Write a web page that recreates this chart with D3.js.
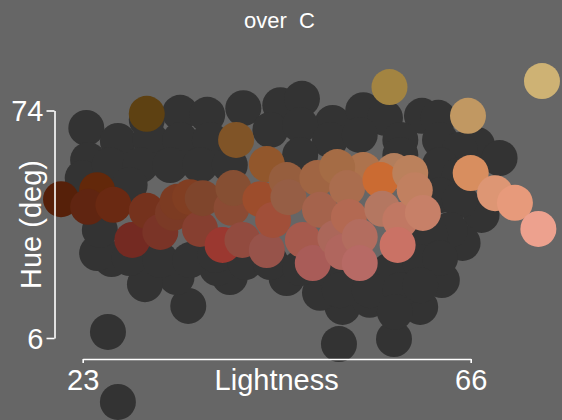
<!DOCTYPE html>
<html><head><meta charset="utf-8"><script src="https://cdn.jsdelivr.net/npm/d3@7"></script>
<style>body{margin:0;background:#666666;overflow:hidden}svg{display:block}text{font-family:"Liberation Sans",Arial,sans-serif;fill:#ffffff}</style></head>
<body><svg id="chart" width="562" height="420"></svg>
<script>
// Background points (chroma below threshold): lightness / hue
const grayLightness = [23.4,26.9,30.1,33.8,36.8,40.8,44.9,47.3,50.7,54.1,56.5,60.6,62.4,66.7,69.2,67.2,65.1,62.8,60.4,57.5,51.4,51.8,54.8,49.3,45.6,39.3,37.9,34.7,33.4,29.9,26.2,24.6,25.8,26.9,23.6,23.0,
  30.5,33.8,37.1,43.8,47.1,50.4,53.7,58.2,62.6,64.8,26.0,29.4,32.7,36.0,39.3,47.1,58.2,62.6,64.8,28.2,62.6,64.8,24.9,63.7,61.5,
  28.2,31.6,34.9,37.7,41.0,43.8,47.1,50.4,53.7,57.1,60.4,62.6,51.5,54.8,58.2,60.4,57.6];
const grayHue = [68.8,64.9,71.2,73.3,72.7,74.7,75.6,77.5,70.3,74.1,71.8,72.4,71.8,63.7,59.8,42.8,34.4,23.3,15.3,5.7,4.2,15.3,17.4,19.5,23.9,24.2,26.9,15.6,24.2,22.1,29.6,31.4,7.8,-13.1,59.2,53.8,
  65.2,65.2,65.2,68.2,69.7,65.2,66.7,65.2,65.2,62.2,57.7,57.7,57.7,57.7,57.7,60.7,60.7,57.7,54.7,51.7,48.7,47.2,38.3,38.3,36.8,
  29.9,29.3,29.3,30.8,28.7,28.7,26.9,26.3,24.8,26.3,28.7,29.9,20.3,20.3,20.3,21.8,13.8];

// Points over the chroma threshold: lightness / hue / chroma
const colLightness = [20.6,24.6,23.6,26.4,28.5,30.1,30.1,31.6,33.0,33.5,34.9,36.0,36.3,38.5,39.5,39.7,40.0,40.7,42.7,43.4,43.4,44.1,45.6,45.8,47.4,48.5,49.0,49.3,51.0,54.1,51.2,51.8,52.3,52.5,53.7,53.7,57.5,56.0,56.2,57.0,58.2,57.9,59.3,59.8,60.7,65.7,66.0,68.7,70.9,73.5,73.9];
const colHue = [47.5,50.2,45.2,45.8,35.3,44.0,73.0,37.7,43.4,46.7,48.1,38.6,47.8,33.8,44.9,50.8,65.2,35.3,47.5,32.3,58.0,41.3,53.2,48.1,35.3,28.4,53.8,44.3,35.9,56.2,57.1,31.7,50.8,42.2,36.2,28.4,55.9,53.2,44.6,81.0,41.3,33.8,55.3,50.2,43.4,72.4,55.3,49.3,46.4,38.6,82.8];
const colChroma = [36.4,40.7,37.2,41.0,39.7,40.1,33.8,38.9,38.1,39.7,41.4,38.6,35.7,50.2,36.6,34.1,36.9,36.5,47.7,33.7,41.8,44.4,35.2,32.5,38.0,36.1,36.8,35.6,33.3,36.7,37.2,34.9,35.8,39.0,34.2,35.3,32.5,60.3,31.9,40.6,36.6,41.7,35.8,36.5,36.1,36.2,45.0,38.5,39.8,35.4,35.9];

const xTicks = [23, 66];
const yTicks = [6, 74];
const titleText = "over  C";
const xLabel = "Lightness";
const yLabel = "Hue (deg)";

const svg = d3.select("#chart");
svg.append("rect").attr("width",562).attr("height",420).attr("fill","#666666");

const x = d3.scaleLinear().domain([23,66]).range([82.7,470.7]);
const y = d3.scaleLinear().domain([6,74]).range([338,110.5]);
const R = 18;

const gray = grayLightness.map((l,i)=>({l, h: grayHue[i]}));
svg.append("g").selectAll("circle").data(gray).join("circle")
  .attr("cx", d=>x(d.l)).attr("cy", d=>y(d.h)).attr("r", R).attr("fill", "#333333");

const col = colLightness.map((l,i)=>({l, h: colHue[i], c: colChroma[i]}));
svg.append("g").selectAll("circle").data(col).join("circle")
  .attr("cx", d=>x(d.l)).attr("cy", d=>y(d.h)).attr("r", R)
  .attr("fill", d=>d3.hcl(d.h, d.c, d.l).formatHex());

// axes
const xAxis = svg.append("g").attr("transform","translate(0,359)")
  .call(d3.axisBottom(x).tickValues(xTicks).tickSize(4).tickSizeOuter(0).tickFormat(d3.format("d")));
const yAxis = svg.append("g").attr("transform","translate(54.5,0)")
  .call(d3.axisLeft(y).tickValues(yTicks).tickSize(8).tickSizeOuter(0).tickFormat(d3.format("d")));
[xAxis,yAxis].forEach(g=>{
  g.selectAll("path,line").attr("stroke","#ffffff").attr("stroke-width",1.6);
  g.selectAll("text").attr("fill","#ffffff").style("font-size","29px").style("font-family","'Liberation Sans',Arial,sans-serif");
});
xAxis.selectAll("text").attr("y",31).attr("dy",null);
yAxis.selectAll("text").attr("x",-11).attr("dy","0.35em");

svg.append("text").attr("x",276.7).attr("y",390).attr("text-anchor","middle")
  .style("font-size","29px").text(xLabel);
svg.append("text").attr("transform","translate(41,224.5) rotate(-90)").attr("text-anchor","middle")
  .style("font-size","29px").text(yLabel);
svg.append("text").attr("x",279.5).attr("y",28).attr("text-anchor","middle")
  .style("font-size","22px").style("white-space","pre").text(titleText);
</script></body></html>
